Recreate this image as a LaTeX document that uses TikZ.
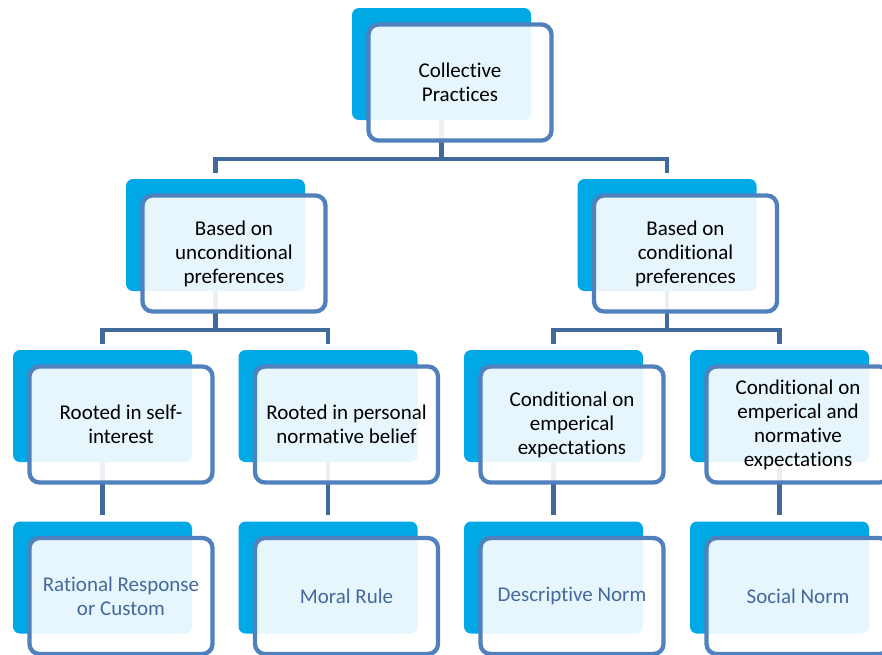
\documentclass[tikz,border=0pt]{standalone}
\usepackage{fontspec}
\setmainfont{Carlito}[RawFeature={-liga;-clig;-calt}]
\usetikzlibrary{calc,backgrounds}
\definecolor{boxcyan}{HTML}{00A9E6}
\definecolor{framblue}{HTML}{5081BD}
\definecolor{linkblue}{HTML}{41699C}
\definecolor{leafblue}{HTML}{44699C}
\tikzset{
  back/.style={fill=boxcyan, rounded corners=7pt, minimum width=179pt, minimum height=112pt, inner sep=0pt},
  frame/.style={draw=framblue, line width=4.3pt, fill=white, fill opacity=0.9, text opacity=1,
    rounded corners=10pt, minimum width=183pt, minimum height=116pt, inner sep=0pt,
    align=center, font=\fontsize{21}{24}\selectfont},
  leaf/.style={frame, text=leafblue},
  link/.style={draw=linkblue, line width=4.3pt},
}

\begin{document}
\begin{tikzpicture}[x=1pt, y=-1pt]
\useasboundingbox (0,0) rectangle (882,654);
% top
\node[back] (b1) at (441.5,64) {};
\node[frame] (f1) at (460,82.5) {Collective\\Practices};
% second row
\node[back] (b2a) at (215.5,235) {};
\node[frame] (f2a) at (234,253.5) {Based on\\unconditional\\preferences};
\node[back] (b2b) at (667,235) {};
\node[frame] (f2b) at (685.5,253.5) {Based on\\conditional\\preferences};
% third row
\node[back] (b3a) at (102.5,406) {};
\node[frame] (f3a) at (121,424.5) {Rooted in self-\\interest};
\node[back] (b3b) at (328,406) {};
\node[frame] (f3b) at (346.5,424.5) {Rooted in personal\\normative belief};
\node[back] (b3c) at (553.5,406) {};
\node[frame] (f3c) at (572,424.5) {Conditional on\\emperical\\expectations};
\node[back] (b3d) at (779.5,406) {};
\node[frame] (f3d) at (798,424.5) {Conditional on\\emperical and\\normative\\expectations};
% bottom row
\node[back] (b4a) at (102.5,577.5) {};
\node[leaf] (f4a) at (121,596) {Rational Response\\or Custom};
\node[back] (b4b) at (328,577.5) {};
\node[leaf] (f4b) at (346.5,596) {Moral Rule};
\node[back] (b4c) at (553.5,577.5) {};
\node[leaf] (f4c) at (572,596) {Descriptive Norm};
\node[back] (b4d) at (779.5,577.5) {};
\node[leaf] (f4d) at (798,596) {Social Norm};
% connectors
\begin{scope}[on background layer]
\coordinate (j1) at ($(b1.south)+(0,39)$);
\coordinate (j2a) at ($(b2a.south)+(0,38.5)$);
\coordinate (j2b) at ($(b2b.south)+(0,38.5)$);
\draw[link] (b1.south) -- (j1);
\draw[link] ($(b2a.north)+(0,-6)$) |- (j1) -| ($(b2b.north)+(0,-6)$);
\draw[link] (b2a.south) -- (j2a);
\draw[link] ($(b3a.north)+(0,-6)$) |- (j2a) -| ($(b3b.north)+(0,-6)$);
\draw[link] (b2b.south) -- (j2b);
\draw[link] ($(b3c.north)+(0,-6)$) |- (j2b) -| ($(b3d.north)+(0,-6)$);
\foreach \k in {a,b,c,d}
  \draw[link] (b3\k.south) -- ($(b4\k.north)+(0,-6)$);
\end{scope}
\end{tikzpicture}
\end{document}
